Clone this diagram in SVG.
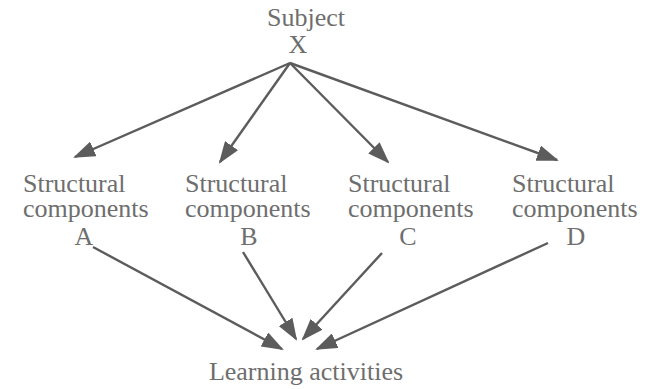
<svg xmlns="http://www.w3.org/2000/svg" width="651" height="389" viewBox="0 0 651 389">
<defs>
<style>
text{font-family:"Liberation Serif","Times New Roman",serif;font-size:26px;fill:#6e6e6e}
.c line{stroke:#5c5c5c;stroke-width:2.4;marker-end:url(#ah)}
</style>
<marker id="ah" markerUnits="userSpaceOnUse" viewBox="0 0 22 16" refX="20" refY="8" markerWidth="22" markerHeight="16" orient="auto">
<path d="M0,0 L22,8 L0,16 z" fill="#5c5c5c"/>
</marker>
</defs>
<rect width="651" height="389" fill="#ffffff"/>
<g id="subject">
<text x="306" y="26" text-anchor="middle">Subject</text>
<text x="298" y="53" text-anchor="middle">X</text>
</g>
<g id="compA">
<text x="23" y="192">Structural</text>
<text x="23" y="217">components</text>
<text x="84" y="245" text-anchor="middle">A</text>
</g>
<g id="compB">
<text x="185" y="192">Structural</text>
<text x="185" y="217">components</text>
<text x="249" y="245" text-anchor="middle">B</text>
</g>
<g id="compC">
<text x="348" y="192">Structural</text>
<text x="348" y="217">components</text>
<text x="408" y="245" text-anchor="middle">C</text>
</g>
<g id="compD">
<text x="512" y="192">Structural</text>
<text x="512" y="217">components</text>
<text x="576" y="245" text-anchor="middle">D</text>
</g>
<g id="learning">
<text x="306" y="380" text-anchor="middle">Learning activities</text>
</g>
<g class="c" id="connectors">
<line x1="290" y1="63" x2="75" y2="157"/>
<line x1="290" y1="63" x2="220" y2="162"/>
<line x1="290" y1="63" x2="388" y2="162"/>
<line x1="290" y1="63" x2="557" y2="160"/>
<line x1="93" y1="247" x2="282" y2="349"/>
<line x1="243" y1="252" x2="296" y2="339"/>
<line x1="382" y1="253" x2="303" y2="339"/>
<line x1="548" y1="243" x2="317" y2="349"/>
</g>
</svg>
